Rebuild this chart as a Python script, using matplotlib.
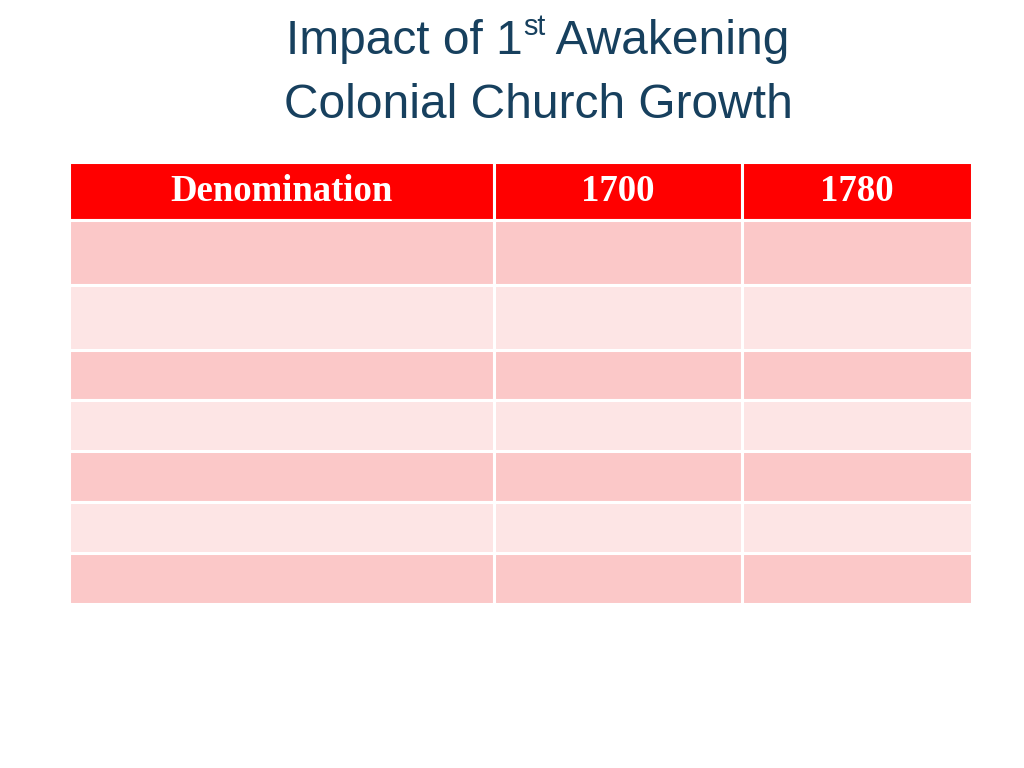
import matplotlib
matplotlib.use('Agg')
import matplotlib.pyplot as plt

# table content (body cells are blank in the original slide)
col_labels = ['Denomination', '1700', '1780']
body_rows  = [['', '', ''] for _ in range(7)]
col_widths = [425, 248, 230]
row_heights = [58, 64, 65, 50, 51, 50, 51, 51]

title_line1 = ('Impact of 1', 'st', ' Awakening')
title_line2 = 'Colonial Church Growth'

red   = '#ff0000'
pink  = '#fbc8c8'
light = '#fde5e5'
navy  = '#17405e'
title_fonts = ['Liberation Sans Narrow', 'Liberation Sans', 'DejaVu Sans']

fig = plt.figure(figsize=(10.24, 7.68), dpi=100)
ax = fig.add_axes([0, 0, 1, 1])
ax.set_xlim(0, 1024)
ax.set_ylim(768, 0)
ax.axis('off')

# table
W, H = 1024.0, 768.0
tb = ax.table(cellText=body_rows, colLabels=col_labels,
              colWidths=[w/sum(col_widths) for w in col_widths],
              bbox=[69/W, (H-604)/H, (972-69)/W, (604-162)/H],
              cellLoc='center')
tb.auto_set_font_size(False)
for (r, c), cell in tb.get_celld().items():
  cell.set_height(row_heights[r] / sum(row_heights))
  cell.set_edgecolor('white')
  cell.set_linewidth(2.2)
  if r == 0:
    cell.set_facecolor(red)
    cell.get_text().set_color('white')
    cell.get_text().set_fontsize(26.5)
    cell.get_text().set_fontfamily(['Liberation Serif', 'DejaVu Serif'])
    cell.get_text().set_fontweight('bold')
  else:
    cell.set_facecolor(pink if r % 2 == 1 else light)

# title with superscript, built from pieces
fig.canvas.draw()
rend = fig.canvas.get_renderer()
fs = 34.5
parts = []
for txt, size in zip(title_line1, [fs, fs*0.6, fs]):
  t = ax.text(0, 54, txt, fontsize=size, color=navy, family=title_fonts,
              ha='left', va='baseline')
  parts.append(t)
widths = [p.get_window_extent(rend).width for p in parts]
x = 538 - sum(widths)/2
for i, p in enumerate(parts):
  p.set_x(x)
  if i == 1:
    p.set_y(35)
  x += widths[i]

ax.text(538, 118, title_line2, fontsize=fs, color=navy, family=title_fonts,
        ha='center', va='baseline')

fig.savefig('out.png', dpi=100)
